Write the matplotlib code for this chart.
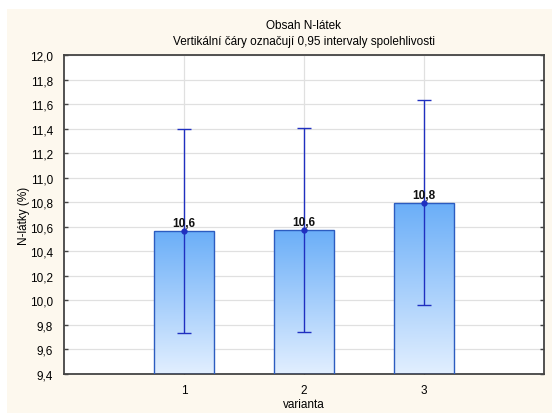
import matplotlib
matplotlib.use("Agg")
import matplotlib.pyplot as plt
import numpy as np
from matplotlib.colors import LinearSegmentedColormap
from matplotlib.patches import Rectangle
from matplotlib.ticker import FuncFormatter, MultipleLocator

plt.rcParams["font.family"] = ["Liberation Sans", "DejaVu Sans"]

# data
varianta = [1, 2, 3]
means = [10.566, 10.574, 10.797]
ci_low = [9.735, 9.740, 9.963]
ci_high = [11.397, 11.405, 11.633]
labels = ["10,6", "10,6", "10,8"]

title = "Obsah N-látek\nVertikální čáry označují 0,95 intervaly spolehlivosti"

fig = plt.figure(figsize=(5.52, 4.14), dpi=100)
fig.patch.set_facecolor("white")
fig.patches.append(Rectangle((7 / 552, 0), 1, 1 - 10 / 414, transform=fig.transFigure,
                             facecolor="#fdf8ee", edgecolor="none", zorder=-10))
ax = fig.add_axes([64 / 552, 1 - 375 / 414, 480 / 552, 319 / 414])
ax.set_facecolor("white")

cmap = LinearSegmentedColormap.from_list("bar", ["#e2efff", "#6aaef8"])
grad = np.linspace(0, 1, 256).reshape(-1, 1)
width = 0.5
for x, m in zip(varianta, means):
    bar = ax.bar(x, m - 9.4, bottom=9.4, width=width, color="none",
                 edgecolor="#2c5cc0", linewidth=1.0, zorder=3)[0]
    img = ax.imshow(grad, cmap=cmap, aspect="auto", origin="lower",
                    extent=[x - width / 2, x + width / 2, 9.4, m], zorder=2)
    img.set_clip_path(bar)

yerr = [np.array(means) - np.array(ci_low), np.array(ci_high) - np.array(means)]
ax.errorbar(varianta, means, yerr=yerr, fmt="o", color="#2030c0", markersize=3.5,
            elinewidth=1.0, capsize=5, capthick=1.0, zorder=4)

for x, m, lab in zip(varianta, means, labels):
    ax.text(x, m + 0.015, lab, ha="center", va="bottom", fontsize=8.5,
            fontweight="bold", color="#111111", zorder=5)

ax.set_xlim(0, 4)
ax.set_ylim(9.4, 12.0)
ax.set_xticks(varianta)
ax.yaxis.set_major_locator(MultipleLocator(0.2))
ax.yaxis.set_major_formatter(FuncFormatter(lambda v, p: f"{v:.1f}".replace(".", ",")))
ax.grid(True, color="#e0e0e0", linewidth=0.9, zorder=0)
ax.set_axisbelow(True)
ax.tick_params(axis="y", direction="in", length=3, width=1, color="#444444",
               labelsize=8.5, right=True, pad=8)
ax.tick_params(axis="x", direction="in", length=3, width=1, color="#444444",
               labelsize=8.5, top=False, pad=7)
for s in ax.spines.values():
    s.set_color("#444444")
    s.set_linewidth(1.3)

ax.set_xlabel("varianta", fontsize=8.5, labelpad=2)
ax.set_ylabel("N-látky (%)", fontsize=8.5, labelpad=0)
ax.set_title(title, fontsize=8.5, pad=8, linespacing=1.45)

fig.savefig("out.png", dpi=100, facecolor=fig.get_facecolor())
